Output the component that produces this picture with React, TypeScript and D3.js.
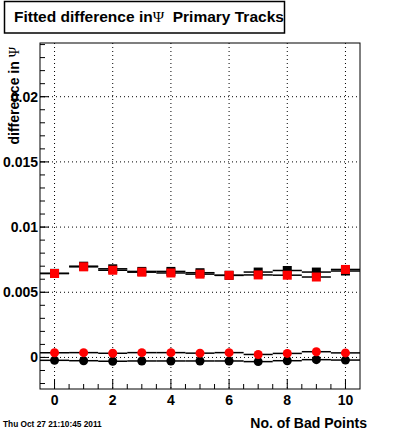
import React from "react";
import * as d3 from "d3";

// bad points bins
const bins = [0, 1, 2, 3, 4, 5, 6, 7, 8, 9, 10];
// fitted differences
const blackSquares = [0.00645, 0.007, 0.0068, 0.0066, 0.0066, 0.0065, 0.0063, 0.00655, 0.00667, 0.00655, 0.00663];
const redSquares = [0.00644, 0.00695, 0.00669, 0.00654, 0.00648, 0.00639, 0.0063, 0.00633, 0.00631, 0.00617, 0.00675];
const blackCircles = [-0.00022, -0.00025, -0.00029, -0.00027, -0.00027, -0.00027, -0.00027, -0.00032, -0.00025, -0.00017, -0.0002];
const redCircles = [0.00036, 0.00037, 0.00032, 0.00037, 0.00037, 0.00033, 0.00037, 0.00023, 0.00031, 0.00044, 0.00035];

const xTicks = [0, 2, 4, 6, 8, 10];
const yTicks = [0, 0.005, 0.01, 0.015, 0.02];
const yTickLabels = ["0", "0.005", "0.01", "0.015", "0.02"];

const W = 400;
const H = 433;
const frame = { left: 40, right: 360, top: 43, bottom: 389 };
const font = "'Liberation Sans', Arial, sans-serif";

export default function App() {
  const x = d3.scaleLinear().domain([-0.5, 10.5]).range([frame.left, frame.right]);
  const y = d3.scaleLinear().domain([-0.00242, 0.02412]).range([frame.bottom, frame.top]);

  const xMinor = d3.range(0, 10.01, 0.5).filter(v => !xTicks.includes(v));
  const yMinor = d3.range(-2, 25).map(v => v * 0.001).filter(v => y(v) >= frame.top - 0.5 && y(v) <= frame.bottom);

  // horizontal bin-width bars, like root's x errors
  const hbars = (vals: number[], color: string, key: string) =>
    vals.map((v, i) => (
      <line
        key={key + i}
        x1={x(bins[i] - 0.5)}
        x2={x(bins[i] + 0.5)}
        y1={y(v)}
        y2={y(v)}
        stroke={color}
        strokeWidth={1.5}
      />
    ));

  const squares = (vals: number[], color: string, key: string) =>
    vals.map((v, i) => (
      <rect key={key + i} x={x(bins[i]) - 4.5} y={y(v) - 4.5} width={9} height={9} fill={color} />
    ));

  const circles = (vals: number[], color: string, key: string) =>
    vals.map((v, i) => <circle key={key + i} cx={x(bins[i])} cy={y(v)} r={4.5} fill={color} />);

  return (
    <svg
      width={W}
      height={H}
      style={{ position: "absolute", left: 0, top: 0, background: "#fff" }}
      fontFamily={font}
    >
      <rect width={W} height={H} fill="#fff" />

      {/* grid */}
      {xTicks.map(t => (
        <line key={"gx" + t} x1={x(t)} x2={x(t)} y1={frame.top} y2={frame.bottom}
          stroke="#000" strokeWidth={1} strokeDasharray="1,3" />
      ))}
      {yTicks.map(t => (
        <line key={"gy" + t} x1={frame.left} x2={frame.right} y1={y(t)} y2={y(t)}
          stroke="#000" strokeWidth={1} strokeDasharray="1,3" />
      ))}

      {/* black series first, red on top */}
      {hbars(blackSquares, "#000", "bsl")}
      {squares(blackSquares, "#000", "bs")}
      {hbars(blackCircles, "#000", "bcl")}
      {circles(blackCircles, "#000", "bc")}
      {hbars(redSquares, "#000", "rsl")}
      {squares(redSquares, "#ff0000", "rs")}
      {hbars(redCircles, "#000", "rcl")}
      {circles(redCircles, "#ff0000", "rc")}

      {/* frame */}
      <rect x={frame.left} y={frame.top} width={frame.right - frame.left} height={frame.bottom - frame.top}
        fill="none" stroke="#000" strokeWidth={1} />

      {/* y ticks */}
      {yTicks.map(t => (
        <line key={"ty" + t} x1={frame.left} x2={frame.left + 9} y1={y(t)} y2={y(t)} stroke="#000" />
      ))}
      {yMinor.map((t, i) => (
        <line key={"my" + i} x1={frame.left} x2={frame.left + 5} y1={y(t)} y2={y(t)} stroke="#000" />
      ))}
      {yTicks.map((t, i) => (
        <text key={"ly" + t} x={38} y={y(t) + 5} textAnchor="end" fontSize={14} fontWeight="bold">
          {yTickLabels[i]}
        </text>
      ))}

      {/* x ticks */}
      {xTicks.map(t => (
        <line key={"tx" + t} x1={x(t)} x2={x(t)} y1={frame.bottom} y2={frame.bottom - 10} stroke="#000" />
      ))}
      {xMinor.map((t, i) => (
        <line key={"mx" + i} x1={x(t)} x2={x(t)} y1={frame.bottom} y2={frame.bottom - 5} stroke="#000" />
      ))}
      {xTicks.map(t => (
        <text key={"lx" + t} x={x(t)} y={405} textAnchor="middle" fontSize={14} fontWeight="bold">
          {t}
        </text>
      ))}

      {/* axis titles */}
      <text x={367} y={428} textAnchor="end" fontSize={14} fontWeight="bold">
        No. of Bad Points
      </text>
      <text transform={`translate(19,${frame.top + 4}) rotate(-90)`} textAnchor="end" fontSize={14} fontWeight="bold">
        difference in <tspan fontFamily="'Liberation Serif', serif" fontWeight="normal">Ψ</tspan>
      </text>

      {/* title box */}
      <rect x={4.5} y={1.5} width={280} height={31.5} fill="#fff" stroke="#000" strokeWidth={1.5} />
      <text x={14} y={22} fontSize={15.5} fontWeight="bold">
        Fitted difference in<tspan fontFamily="'Liberation Serif', serif" fontWeight="normal">Ψ</tspan>
        {"\u00a0\u00a0Primary Tracks"}
      </text>

      <text x={3} y={427} fontSize={8.3} fontWeight="bold">
        Thu Oct 27 21:10:45 2011
      </text>
    </svg>
  );
}
